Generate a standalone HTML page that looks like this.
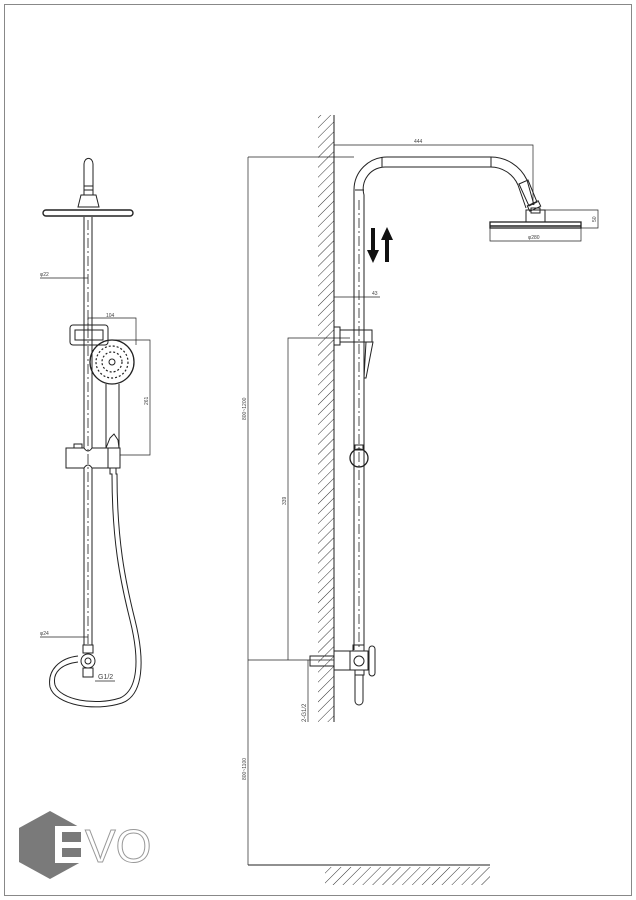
<!DOCTYPE html>
<html><head><style>html,body{margin:0;padding:0;background:#fff}svg{display:block}</style></head>
<body>
<svg width="636" height="900" viewBox="0 0 636 900" xmlns="http://www.w3.org/2000/svg" font-family="Liberation Sans, sans-serif">
<defs>
<pattern id="h" width="7" height="7" patternUnits="userSpaceOnUse" patternTransform="rotate(45)">
<line x1="0" y1="0" x2="0" y2="7" stroke="#333" stroke-width="1"/>
</pattern>
</defs>
<rect x="4.5" y="4.5" width="627" height="891" fill="none" stroke="#888" stroke-width="1"/>

<g fill="none" stroke="#222" stroke-width="1">
<!-- LEFT VIEW -->
<path d="M84 195 V164 a4 5 0 0 1 9 0 V195"/>
<line x1="84" y1="186" x2="93" y2="186"/><line x1="84" y1="190" x2="93" y2="190"/>
<path d="M81 195 H96 L99 207 H78 Z"/>
<rect x="43" y="210" width="90" height="6" rx="3" stroke-width="1.4"/>
<line x1="84" y1="217" x2="84" y2="448"/><line x1="92" y1="217" x2="92" y2="448"/>
<line x1="84" y1="468" x2="84" y2="645"/><line x1="92" y1="468" x2="92" y2="645"/>
<line x1="88" y1="220" x2="88" y2="645" stroke-dasharray="10,3,2,3" stroke-width="0.8"/>
<line x1="40" y1="278" x2="88" y2="278" stroke-width="0.7"/>
<rect x="70" y="325" width="38" height="20" rx="3"/>
<rect x="75" y="330" width="28" height="10"/>
<polyline points="88,330 88,318 136,318 136,345" stroke-width="0.7"/>
<circle cx="112" cy="362" r="22" stroke-width="1.3"/>
<g stroke-dasharray="2,2" stroke-width="1.2">
<circle cx="112" cy="362" r="16"/><circle cx="112" cy="362" r="10"/></g>
<circle cx="112" cy="362" r="3"/>
<line x1="106" y1="384" x2="106" y2="448"/><line x1="119" y1="384" x2="119" y2="448"/>
<path d="M106 448 L110 438 L114 434 L118 440 L119 448"/>
<polyline points="112,340 150,340 150,455 120,455" stroke-width="0.7"/>
<path d="M66 448 H84 Q88 454 92 448 H108 V468 H92 Q88 462 84 468 H66 Z"/>
<rect x="108" y="448" width="12" height="20"/>
<rect x="74" y="444" width="8" height="4"/>
<path d="M110 468 V474 H112 C112 540 120 580 130 620 C140 660 138 690 120 698 C95 706 60 700 55 685 C52 672 62 664 78 662"/>
<path d="M116 468 V474 H117 C117 540 125 580 135 620 C145 660 144 695 122 703 C95 712 55 705 50 687 C47 670 60 658 78 656"/>
<circle cx="88" cy="661" r="7"/><circle cx="88" cy="661" r="3"/>
<rect x="83" y="645" width="10" height="8"/><rect x="83" y="668" width="10" height="9"/>
<line x1="40" y1="637" x2="88" y2="637" stroke-width="0.7"/>
<line x1="95" y1="681" x2="115" y2="681" stroke-width="0.7"/>

<!-- RIGHT VIEW -->
<rect x="318" y="115" width="16" height="607" fill="url(#h)" stroke="none"/>
<line x1="334" y1="115" x2="334" y2="722"/>
<line x1="318" y1="722" x2="334" y2="722" stroke="none"/>
<path d="M354 650 V190 A33 33 0 0 1 387 157 H490 A40 40 0 0 1 527 180 L534 205"/>
<path d="M364 650 V195 A22 22 0 0 1 386 167 H490 A30 30 0 0 1 518 185 L526 208"/>
<line x1="382" y1="157" x2="382" y2="167"/><line x1="491" y1="157" x2="491" y2="167"/>
<line x1="355" y1="190" x2="364" y2="190"/>
<line x1="359" y1="200" x2="359" y2="650" stroke-dasharray="10,3,2,3" stroke-width="0.8"/>
<path d="M519 184 L528 180 L537 202 L529 206 Z"/>
<rect x="528" y="203" width="12" height="6" transform="rotate(-25 534 206)"/>
<rect x="526" y="210" width="19" height="12"/><rect x="531" y="208" width="9" height="5"/>
<rect x="490" y="222" width="91" height="6" stroke-width="1.3"/>
<line x1="490" y1="226" x2="581" y2="226" stroke-width="1.5"/>
<polyline points="490,228 490,241 581,241 581,228" stroke-width="0.7"/>
<polyline points="545,210 598,210 598,228 581,228" stroke-width="0.7"/>
<polyline points="334,150 334,145 533,145 533,205" stroke-width="0.7"/>
<line x1="248" y1="157" x2="354" y2="157" stroke-width="0.7"/>
<line x1="248" y1="157" x2="248" y2="865" stroke-width="0.7"/>
<line x1="248" y1="865" x2="490" y2="865"/>
<rect x="325" y="867" width="165" height="18" fill="url(#h)" stroke="none"/>
<line x1="334" y1="297" x2="380" y2="297" stroke-width="0.7"/>
<rect x="334" y="327" width="6" height="18"/>
<rect x="340" y="330" width="32" height="12"/>
<path d="M366 342 L373 342 L366 378 L364 378 Z"/>
<polyline points="350,338 288,338 288,660" stroke-width="0.7"/>
<rect x="355" y="445" width="8" height="5"/>
<circle cx="359" cy="458" r="9" stroke-width="1.3"/>
<line x1="248" y1="660" x2="334" y2="660" stroke-width="0.7"/>
<rect x="310" y="656" width="24" height="10"/>
<line x1="308" y1="660" x2="308" y2="722" stroke-width="0.7"/>
<rect x="334" y="651" width="16" height="19"/>
<rect x="350" y="651" width="18" height="19"/>
<rect x="353" y="645" width="11" height="6"/>
<circle cx="359" cy="661" r="5"/>
<rect x="369" y="646" width="6" height="30" rx="3"/>
<rect x="355" y="670" width="9" height="5"/>
<path d="M355 675 V701 a4 4 0 0 0 8 0 V675"/>
</g>
<!-- arrows -->
<g fill="#111">
<rect x="371" y="228" width="4" height="24"/><polygon points="367,250 379,250 373,263"/>
<rect x="385" y="238" width="4" height="24"/><polygon points="381,240 393,240 387,227"/>
</g>
<g fill="#444" font-size="5">
<text x="40" y="276">φ22</text>
<text x="40" y="635">φ24</text>
<text x="106" y="317">104</text>
<text x="98" y="679" font-size="7">G1/2</text>
<text x="414" y="143">444</text>
<text x="528" y="239">φ280</text>
<text x="372" y="295">43</text>
<text transform="translate(148,405) rotate(-90)">261</text>
<text transform="translate(596,222) rotate(-90)">50</text>
<text transform="translate(286,505) rotate(-90)">339</text>
<text transform="translate(246,420) rotate(-90)">800~1200</text>
<text transform="translate(246,780) rotate(-90)">800~1100</text>
<text transform="translate(306,722) rotate(-90)" font-size="6">2-G1/2</text>
</g>
<!-- logo -->
<polygon points="50,811 81,828 81,862 50,879 19,862 19,828" fill="#7a7a7a"/>
<g fill="#fff"><rect x="55" y="826" width="29" height="6"/><rect x="55" y="842" width="27" height="6"/><rect x="55" y="857" width="29" height="6"/><rect x="55" y="826" width="7" height="37"/></g>
<text x="85" y="862" font-size="46" fill="#fff" stroke="#999" stroke-width="1">VO</text>
</svg>
</body></html>
